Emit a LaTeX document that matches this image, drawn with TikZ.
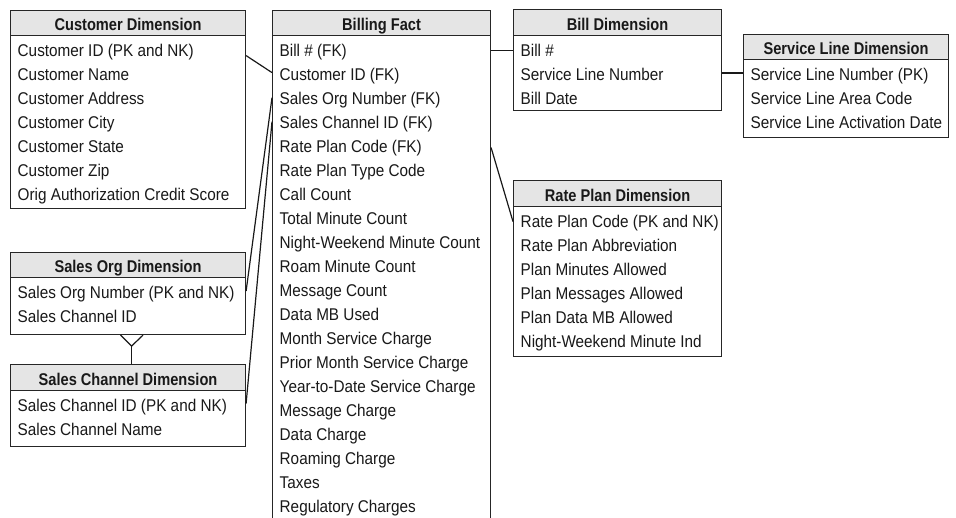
\documentclass[tikz,border=0pt]{standalone}
\usepackage{fontspec}
\setmainfont{Liberation Sans}[FakeStretch=0.9]
\newfontfamily\hdrfont{Liberation Sans}[FakeStretch=0.86]
\usetikzlibrary{calc}
\tikzset{
  entity/.style={draw=black!85, line width=1.1pt, inner sep=0pt, fill=white},
  header/.style={draw=black!85, line width=1.1pt, fill=black!10, inner sep=0pt, text height=15.5pt, text depth=0pt, font=\hdrfont\fontsize{17}{20}\selectfont\bfseries, text=black!90},
  row/.style={inner sep=0pt, anchor=base west, font=\fontsize{17}{20}\selectfont, text=black!90},
  conn/.style={draw=black!90, line width=1.2pt}
}
% #1 name, #2 x1, #3 top, #4 x2, #5 header bottom, #6 bottom, #7 title, #8 rows
\newcommand\entbox[8]{%
  \node[entity, anchor=north west, minimum width={(#4-#2)*1pt}, minimum height={(#6-#3)*1pt}] (#1) at (#2,-#3) {};
  \node[header, anchor=north west, minimum width={(#4-#2)*1pt}, minimum height={(#5-#3)*1pt}] (#1-h) at (#2,-#3) {#7};
  \foreach \t [count=\i] in {#8} {
    \node[row] (#1-\i) at ({#2+7.5}, {-(#5+21.5+24*(\i-1))}) {\t};
  }
}
\begin{document}
\begin{tikzpicture}[x=1pt, y=1pt]
\useasboundingbox (0,0) rectangle (956,-517);
\clip (0,0) rectangle (956,-517);
\entbox{cust}{10}{9.5}{245}{34.5}{208}{Customer Dimension}{Customer ID (PK and NK),Customer Name,Customer Address,Customer City,Customer State,Customer Zip,Orig Authorization Credit Score}
\entbox{fact}{272}{9.5}{490}{34.5}{540}{Billing Fact}{Bill \# (FK),Customer ID (FK),Sales Org Number (FK),Sales Channel ID (FK),Rate Plan Code (FK),Rate Plan Type Code,Call Count,Total Minute Count,Night-Weekend Minute Count,Roam Minute Count,Message Count,Data MB Used,Month Service Charge,Prior Month Service Charge,Year-to-Date Service Charge,Message Charge,Data Charge,Roaming Charge,Taxes,Regulatory Charges}
\entbox{bill}{513}{9}{721}{34.5}{110}{Bill Dimension}{Bill \#,Service Line Number,Bill Date}
\entbox{sl}{743}{34}{948}{59}{137}{Service Line Dimension}{Service Line Number (PK),Service Line Area Code,Service Line Activation Date}
\entbox{rp}{513}{180}{721}{205.5}{356}{Rate Plan Dimension}{Rate Plan Code (PK and NK),Rate Plan Abbreviation,Plan Minutes Allowed,Plan Messages Allowed,Plan Data MB Allowed,Night-Weekend Minute Ind}
\entbox{so}{10}{252}{245}{277}{334}{Sales Org Dimension}{Sales Org Number (PK and NK),Sales Channel ID}
\entbox{sc}{10}{364}{245}{389.5}{446}{Sales Channel Dimension}{Sales Channel ID (PK and NK),Sales Channel Name}
% connectors
\draw[conn] ($(cust.east |- cust-1)+(0,-4)$) -- ($(fact.west |- fact-2)+(0,3)$);
\draw[conn] ($(so.east |- so-1)+(0,3)$) -- ($(fact.west |- fact-3)+(0,2)$);
\draw[conn] ($(sc.east |- sc-1)+(0,3)$) -- ($(fact.west |- fact-4)+(0,2)$);
\draw[conn] ($(fact.east |- fact-1)+(0,1)$) -- ($(bill.west |- fact-1)+(0,1)$);
\draw[conn] ($(bill.east |- bill-2)+(0,1)$) -- ($(sl.west |- bill-2)+(0,1)$);
\draw[conn] (fact.east |- fact-5) -- ($(rp.west |- rp-1)+(0,1)$);
% crow's foot
\coordinate (cf) at ($(so.south)+(3.5,-11)$);
\draw[conn] ($(sc.north)+(3.5,0)$) -- (cf);
\draw[conn] ($(so.south)+(-7.5,0)$) -- (cf) -- ($(so.south)+(15,0)$);
\end{tikzpicture}
\end{document}
